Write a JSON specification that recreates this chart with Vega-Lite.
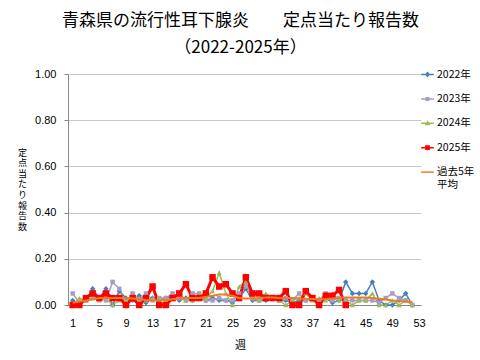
{
  "$schema": "https://vega.github.io/schema/vega-lite/v6.json",
  "width": 353,
  "height": 231,
  "autosize": {"type": "none"},
  "padding": {"left": 68, "top": 74, "right": 59, "bottom": 55},
  "background": "white",
  "config": {
    "view": {"stroke": null},
    "font": "Noto Sans CJK JP",
    "legend": {"symbolOpacity": 1, "symbolFillColor": "#000000", "symbolStrokeColor": "#000000"}
  },
  "title": {
    "text": ["青森県の流行性耳下腺炎　　定点当たり報告数", "（2022-2025年）"],
    "font": "Noto Sans CJK JP",
    "fontSize": 17,
    "fontWeight": "normal",
    "color": "#000000",
    "anchor": "middle",
    "frame": "group",
    "offset": 10,
    "lineHeight": 27,
    "dx": -4
  },
  "data": {
    "values": [
      {"w": 1, "2022年": 0.02, "2023年": 0.05, "2024年": 0, "2025年": 0, "過去5年平均": 0.01},
      {"w": 2, "2022年": 0, "2023年": 0.01, "2024年": 0.03, "2025年": 0, "過去5年平均": 0.015},
      {"w": 3, "2022年": 0.02, "2023年": 0.02, "2024年": 0.02, "2025年": 0.03, "過去5年平均": 0.02},
      {"w": 4, "2022年": 0.07, "2023年": 0.03, "2024年": 0.03, "2025年": 0.05, "過去5年平均": 0.025},
      {"w": 5, "2022年": 0.03, "2023年": 0.03, "2024年": 0.02, "2025年": 0.03, "過去5年平均": 0.03},
      {"w": 6, "2022年": 0.07, "2023年": 0.02, "2024年": 0.03, "2025年": 0.05, "過去5年平均": 0.03},
      {"w": 7, "2022年": 0, "2023年": 0.10, "2024年": 0, "2025年": 0.03, "過去5年平均": 0.03},
      {"w": 8, "2022年": 0.06, "2023年": 0.07, "2024年": 0.02, "2025年": 0.03, "過去5年平均": 0.03},
      {"w": 9, "2022年": 0.03, "2023年": 0, "2024年": 0.02, "2025年": 0, "過去5年平均": 0.03},
      {"w": 10, "2022年": 0.02, "2023年": 0.05, "2024年": 0.03, "2025年": 0.03, "過去5年平均": 0.028},
      {"w": 11, "2022年": 0.04, "2023年": 0.02, "2024年": 0.03, "2025年": 0, "過去5年平均": 0.025},
      {"w": 12, "2022年": 0.01, "2023年": 0.05, "2024年": 0.02, "2025年": 0.03, "過去5年平均": 0.022},
      {"w": 13, "2022年": 0.03, "2023年": 0.02, "2024年": 0.03, "2025年": 0.08, "過去5年平均": 0.02},
      {"w": 14, "2022年": 0.02, "2023年": 0.03, "2024年": 0.03, "2025年": 0, "過去5年平均": 0.02},
      {"w": 15, "2022年": 0.03, "2023年": 0.03, "2024年": 0.02, "2025年": 0, "過去5年平均": 0.022},
      {"w": 16, "2022年": 0.04, "2023年": 0.05, "2024年": 0.03, "2025年": 0.03, "過去5年平均": 0.025},
      {"w": 17, "2022年": 0.02, "2023年": 0.03, "2024年": 0.05, "2025年": 0.05, "過去5年平均": 0.028},
      {"w": 18, "2022年": 0.03, "2023年": 0.02, "2024年": 0.02, "2025年": 0.09, "過去5年平均": 0.03},
      {"w": 19, "2022年": 0.02, "2023年": 0.05, "2024年": 0.02, "2025年": 0.03, "過去5年平均": 0.03},
      {"w": 20, "2022年": 0.03, "2023年": 0.05, "2024年": 0.05, "2025年": 0.03, "過去5年平均": 0.03},
      {"w": 21, "2022年": 0.02, "2023年": 0.02, "2024年": 0.03, "2025年": 0.05, "過去5年平均": 0.035},
      {"w": 22, "2022年": 0.03, "2023年": 0.02, "2024年": 0.06, "2025年": 0.12, "過去5年平均": 0.04},
      {"w": 23, "2022年": 0.02, "2023年": 0.03, "2024年": 0.14, "2025年": 0.08, "過去5年平均": 0.045},
      {"w": 24, "2022年": 0.02, "2023年": 0.02, "2024年": 0.05, "2025年": 0.09, "過去5年平均": 0.045},
      {"w": 25, "2022年": 0.01, "2023年": 0.02, "2024年": 0, "2025年": 0.05, "過去5年平均": 0.04},
      {"w": 26, "2022年": 0.03, "2023年": 0.05, "2024年": 0.08, "2025年": 0.03, "過去5年平均": 0.03},
      {"w": 27, "2022年": 0.07, "2023年": 0.08, "2024年": 0.10, "2025年": 0.12, "過去5年平均": 0.028},
      {"w": 28, "2022年": 0.02, "2023年": 0.03, "2024年": 0.03, "2025年": 0.05, "過去5年平均": 0.028},
      {"w": 29, "2022年": 0.02, "2023年": 0.02, "2024年": 0.02, "2025年": 0.05, "過去5年平均": 0.03},
      {"w": 30, "2022年": 0.02, "2023年": 0.03, "2024年": 0.05, "2025年": 0.03, "過去5年平均": 0.032},
      {"w": 31, "2022年": 0.03, "2023年": 0.03, "2024年": 0.03, "2025年": 0.03, "過去5年平均": 0.032},
      {"w": 32, "2022年": 0.02, "2023年": 0.02, "2024年": 0.02, "2025年": 0.03, "過去5年平均": 0.03},
      {"w": 33, "2022年": 0.02, "2023年": 0.03, "2024年": 0, "2025年": 0.06, "過去5年平均": 0.03},
      {"w": 34, "2022年": 0.01, "2023年": 0.02, "2024年": 0.02, "2025年": 0, "過去5年平均": 0.03},
      {"w": 35, "2022年": 0.02, "2023年": 0.05, "2024年": 0.03, "2025年": 0, "過去5年平均": 0.028},
      {"w": 36, "2022年": 0.02, "2023年": 0.02, "2024年": 0.05, "2025年": 0.06, "過去5年平均": 0.027},
      {"w": 37, "2022年": 0.03, "2023年": 0.03, "2024年": 0.02, "2025年": 0.03, "過去5年平均": 0.026},
      {"w": 38, "2022年": 0.02, "2023年": 0.02, "2024年": 0.03, "2025年": 0, "過去5年平均": 0.025},
      {"w": 39, "2022年": 0.03, "2023年": 0.05, "2024年": 0.02, "2025年": 0.04, "過去5年平均": 0.025},
      {"w": 40, "2022年": 0.01, "2023年": 0.02, "2024年": 0.05, "2025年": 0.04, "過去5年平均": 0.028},
      {"w": 41, "2022年": 0.02, "2023年": 0.03, "2024年": 0.02, "2025年": 0.065, "過去5年平均": 0.03},
      {"w": 42, "2022年": 0.10, "2023年": 0.02, "2024年": 0.02, "2025年": 0, "過去5年平均": 0.033},
      {"w": 43, "2022年": 0.05, "2023年": 0.02, "2024年": 0, "過去5年平均": 0.033},
      {"w": 44, "2022年": 0.05, "2023年": 0.02, "2024年": 0.02, "過去5年平均": 0.033},
      {"w": 45, "2022年": 0.05, "2023年": 0.02, "2024年": 0.02, "過去5年平均": 0.032},
      {"w": 46, "2022年": 0.10, "2023年": 0.02, "2024年": 0.05, "過去5年平均": 0.03},
      {"w": 47, "2022年": 0.02, "2023年": 0.01, "2024年": 0, "過去5年平均": 0.027},
      {"w": 48, "2022年": 0, "2023年": 0.03, "2024年": 0, "過去5年平均": 0.024},
      {"w": 49, "2022年": 0, "2023年": 0.05, "2024年": 0.02, "過去5年平均": 0.02},
      {"w": 50, "2022年": 0.02, "2023年": 0.03, "2024年": 0, "過去5年平均": 0.017},
      {"w": 51, "2022年": 0.05, "2023年": 0.02, "2024年": 0.02, "過去5年平均": 0.015},
      {"w": 52, "2022年": 0, "2023年": 0, "2024年": 0, "過去5年平均": 0.013}
    ]
  },
  "transform": [
    {"fold": ["2022年", "2023年", "2024年", "2025年", "過去5年平均"], "as": ["series", "v"]},
    {"filter": "isValid(datum.v)"}
  ],
  "encoding": {
    "x": {
      "field": "w", "type": "quantitative",
      "scale": {"domain": [0.3, 53.3], "nice": false, "zero": false},
      "axis": {
        "values": [1, 5, 9, 13, 17, 21, 25, 29, 33, 37, 41, 45, 49, 53],
        "format": "d",
        "labelFont": "Liberation Sans", "labelFontSize": 11, "labelColor": "#000000",
        "labelFlush": false,
        "ticks": false, "labelPadding": 12,
        "grid": false, "domainColor": "#888888",
        "title": "週", "titleFont": "Noto Sans CJK JP", "titleFontSize": 11,
        "titleFontWeight": "normal", "titleColor": "#000000",
        "titleX": 172, "titleY": 40, "titleBaseline": "middle"
      }
    },
    "y": {
      "field": "v", "type": "quantitative",
      "scale": {"domain": [0, 1], "nice": false},
      "axis": {
        "values": [0, 0.2, 0.4, 0.6, 0.8, 1],
        "format": ".2f",
        "labelFont": "Liberation Sans", "labelFontSize": 11, "labelColor": "#000000",
        "tickSize": 4, "tickColor": "#888888", "labelPadding": 8,
        "grid": true, "gridColor": "#C8C8C8", "domainColor": "#888888",
        "title": ["定", "点", "当", "た", "り", "報", "告", "数"],
        "titleAngle": 0, "titleX": -46, "titleY": 78,
        "titleAlign": "center", "titleBaseline": "middle",
        "titleFont": "Noto Sans CJK JP", "titleFontSize": 9, "titleLineHeight": 10.6,
        "titleFontWeight": "normal", "titleColor": "#000000"
      }
    }
  },
  "layer": [
    {
      "transform": [{"filter": "datum.series == '2022年' || datum.series == '2023年' || datum.series == '2024年'"}],
      "mark": {"type": "line", "strokeWidth": 1.5},
      "encoding": {
        "color": {
          "field": "series", "type": "nominal",
          "scale": {
            "domain": ["2022年", "2023年", "2024年", "2025年", "過去5年平均"],
            "range": ["#4A7EBB", "#A99BC8", "#9BBB59", "#FF0000", "#F07A22"]
          },
          "legend": null
        }
      }
    },
    {
      "transform": [{"filter": "datum.series == '2025年'"}],
      "mark": {"type": "line", "strokeWidth": 3},
      "encoding": {"color": {"field": "series", "type": "nominal", "legend": null}}
    },
    {
      "transform": [{"filter": "datum.series == '2022年'"}],
      "mark": {"type": "point", "shape": "diamond", "filled": true, "opacity": 1, "size": 30},
      "encoding": {"color": {"field": "series", "type": "nominal", "legend": null}}
    },
    {
      "transform": [{"filter": "datum.series == '2023年'"}],
      "mark": {"type": "point", "shape": "square", "filled": true, "opacity": 1, "size": 20},
      "encoding": {"color": {"field": "series", "type": "nominal", "legend": null}}
    },
    {
      "transform": [{"filter": "datum.series == '2024年'"}],
      "mark": {"type": "point", "shape": "triangle-up", "filled": true, "opacity": 1, "size": 25},
      "encoding": {"color": {"field": "series", "type": "nominal", "legend": null}}
    },
    {
      "transform": [{"filter": "datum.series == '2025年'"}],
      "mark": {"type": "point", "shape": "square", "filled": true, "opacity": 1, "size": 42},
      "encoding": {"color": {"field": "series", "type": "nominal", "legend": null}}
    },
    {
      "transform": [{"filter": "datum.series == '過去5年平均'"}],
      "mark": {"type": "line", "strokeWidth": 2},
      "encoding": {"color": {"field": "series", "type": "nominal", "legend": null}}
    },
    {
      "mark": {"type": "point", "filled": true, "opacity": 0},
      "encoding": {
        "fill": {
          "field": "series", "type": "nominal",
          "scale": {
            "domain": ["2022年", "2023年", "2024年", "2025年", "過去5年平均"],
            "range": ["#4A7EBB", "#A99BC8", "#9BBB59", "#FF0000", "#F07A22"]
          },
          "legend": {
            "orient": "none", "legendX": 352, "legendY": -7,
            "direction": "vertical",
            "title": null,
            "symbolSize": 160,
            "rowPadding": 11.4,
            "labelFont": "Noto Sans CJK JP", "labelFontSize": 10.5, "labelColor": "#000000",
            "labelOffset": 2, "labelLimit": 80,
            "labelExpr": "datum.value == '過去5年平均' ? [' 過去5年', '平均'] : datum.label"
          }
        },
        "stroke": {
          "field": "series", "type": "nominal",
          "scale": {
            "domain": ["2022年", "2023年", "2024年", "2025年", "過去5年平均"],
            "range": ["#4A7EBB", "#A99BC8", "#9BBB59", "#FF0000", "#F07A22"]
          }
        },
        "strokeWidth": {
          "field": "series", "type": "nominal",
          "scale": {
            "domain": ["2022年", "2023年", "2024年", "2025年", "過去5年平均"],
            "range": [1.5, 1.5, 1.5, 3, 2]
          }
        },
        "shape": {
          "field": "series", "type": "nominal",
          "scale": {
            "domain": ["2022年", "2023年", "2024年", "2025年", "過去5年平均"],
            "range": [
              "M-1,0H1M0,-0.3L0.25,0L0,0.3L-0.25,0Z",
              "M-1,0H1M-0.2,-0.2H0.2V0.2H-0.2Z",
              "M-1,0H1M0,-0.25L0.25,0.2H-0.25Z",
              "M-1,0H1M-0.25,-0.25H0.25V0.25H-0.25Z",
              "M-1,0H1"
            ]
          }
        }
      }
    }
  ],
  "resolve": {"scale": {"fill": "independent", "stroke": "independent", "strokeWidth": "independent", "shape": "independent"}}
}
